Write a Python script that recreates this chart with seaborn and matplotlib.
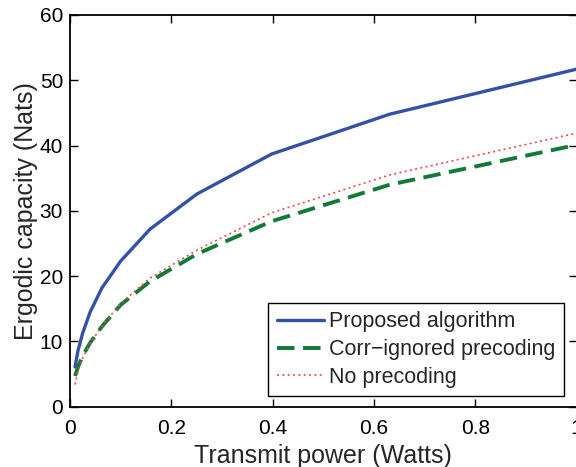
import matplotlib
matplotlib.use("Agg")
import matplotlib.pyplot as plt
import seaborn as sns
import pandas as pd

# transmit power in Watts (-20 dB .. 0 dB, 2 dB steps)
power = [0.01, 0.0158, 0.0251, 0.0398, 0.0631, 0.1, 0.158, 0.251, 0.398, 0.631, 1.0]

proposed = [6.1, 8.6, 11.3, 14.5, 18.2, 22.3, 27.2, 32.6, 38.7, 44.8, 51.7]
corr_ignored = [4.7, 6.1, 7.8, 9.8, 12.3, 15.6, 19.2, 23.4, 28.4, 34.0, 40.1]
no_precoding = [3.4, 5.5, 7.5, 9.7, 12.4, 15.8, 19.7, 24.0, 29.7, 35.5, 41.9]

labels = ["Proposed algorithm", "Corr\u2212ignored precoding", "No precoding"]

df = pd.DataFrame({"power": power, labels[0]: proposed,
                   labels[1]: corr_ignored, labels[2]: no_precoding})

sns.set_style("ticks")
plt.rcParams["font.family"] = ["Liberation Sans", "DejaVu Sans"]

fig = plt.figure(figsize=(5.76, 4.67), dpi=100)
ax = fig.add_axes([70 / 576, 60.3 / 467, 506.5 / 576, 391.7 / 467])

sns.lineplot(data=df, x="power", y=labels[0], ax=ax, color="#3451a6",
             linewidth=2.4, label=labels[0])
sns.lineplot(data=df, x="power", y=labels[1], ax=ax, color="#127a38",
             linewidth=2.8, label=labels[1], dashes=False)
sns.lineplot(data=df, x="power", y=labels[2], ax=ax, color="#f04848",
             linewidth=1.2, label=labels[2], dashes=False)
ax.lines[1].set_dashes([4.5, 2.2])
ax.lines[2].set_dashes([1.2, 2.0])

ax.set_xlim(0, 1)
ax.set_ylim(0, 60)
ax.set_xticks([0, 0.2, 0.4, 0.6, 0.8, 1])
ax.set_xticklabels(["0", "0.2", "0.4", "0.6", "0.8", "1"])
ax.set_yticks(range(0, 61, 10))
ax.tick_params(direction="in", length=6, width=1, labelsize=15,
               top=True, right=True, colors="black")
ax.tick_params(axis="x", pad=9)
ax.tick_params(axis="y", pad=5)
for s in ax.spines.values():
    s.set_linewidth(1.3)
    s.set_color("black")

ax.set_xlabel("Transmit power (Watts)", fontsize=18, labelpad=4)
ax.set_ylabel("Ergodic capacity (Nats)", fontsize=18, labelpad=1)

leg = ax.legend(loc="lower right", bbox_to_anchor=(0.975, 0.027),
                borderaxespad=0, fontsize=15.5, frameon=True, fancybox=False,
                handlelength=2.2, handletextpad=0.25, labelspacing=0.32,
                borderpad=0.38)
leg.get_frame().set_edgecolor("black")
leg.get_frame().set_linewidth(1.0)
leg.get_frame().set_alpha(1)

fig.savefig("out.png", dpi=100)
